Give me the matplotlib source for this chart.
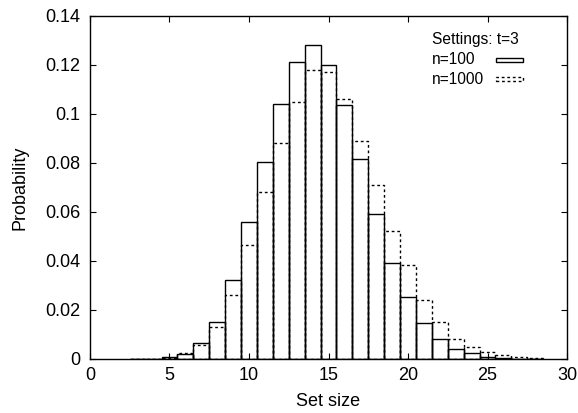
import numpy as np
import matplotlib
matplotlib.use('Agg')
import matplotlib.pyplot as plt
from matplotlib.patches import Rectangle

plt.rcParams['font.family'] = ['Liberation Sans', 'DejaVu Sans']

# set size vs probability, two population sizes
sizes = list(range(3, 29))
p_n100 = [0.0000, 0.0001, 0.0007, 0.0019, 0.0064, 0.0150, 0.0322, 0.0558,
          0.0805, 0.1041, 0.1214, 0.1282, 0.1199, 0.1037, 0.0815, 0.0592,
          0.0391, 0.0252, 0.0146, 0.0080, 0.0041, 0.0023, 0.0010, 0.0004,
          0.0001, 0.0000]
p_n1000 = [0.0000, 0.0001, 0.0005, 0.0024, 0.0056, 0.0129, 0.0262, 0.0465,
           0.0682, 0.0883, 0.1050, 0.1178, 0.1170, 0.1060, 0.0891, 0.0709,
           0.0524, 0.0382, 0.0239, 0.0152, 0.0083, 0.0050, 0.0030, 0.0015,
           0.0007, 0.0003]

xticks = [0, 5, 10, 15, 20, 25, 30]
yticks = [0, 0.02, 0.04, 0.06, 0.08, 0.1, 0.12, 0.14]
ytick_labels = ['0', '0.02', '0.04', '0.06', '0.08', '0.1', '0.12', '0.14']
dash = (0, (2, 2))

fig = plt.figure(figsize=(5.78, 4.13), dpi=100)
ax = fig.add_axes([0.1557, 0.1308, 0.8253, 0.8305])

ax.bar(sizes, p_n100, width=1.0, facecolor='none', edgecolor='black',
       linewidth=1.0)
ax.bar(sizes, p_n1000, width=1.0, facecolor='none', edgecolor='black',
       linewidth=1.0, linestyle=dash)

ax.set_xlim(0, 30)
ax.set_ylim(0, 0.14)
ax.set_xticks(xticks)
ax.set_yticks(yticks)
ax.set_yticklabels(ytick_labels)
ax.tick_params(direction='in', length=4, width=0.8, labelsize=13,
               top=True, right=True)
ax.tick_params(axis='y', pad=7)
ax.tick_params(axis='x', pad=6)
for s in ax.spines.values():
    s.set_linewidth(1.0)

ax.set_xlabel('Set size', fontsize=13, labelpad=6)
ax.set_ylabel('Probability', fontsize=13, labelpad=12)

# gnuplot style key
ax.text(0.717, 0.930, 'Settings: t=3', transform=ax.transAxes,
        fontsize=11.2, va='center', ha='left')
for label, yk, ls in [('n=100', 0.872, '-'), ('n=1000', 0.816, dash)]:
    ax.text(0.717, yk, label, transform=ax.transAxes, fontsize=11.2,
            va='center', ha='left')
    ax.add_patch(Rectangle((0.851, yk - 0.006), 0.057, 0.012,
                           transform=ax.transAxes, facecolor='none',
                           edgecolor='black', linewidth=1.0, linestyle=ls))

fig.savefig('out.png', dpi=100)
